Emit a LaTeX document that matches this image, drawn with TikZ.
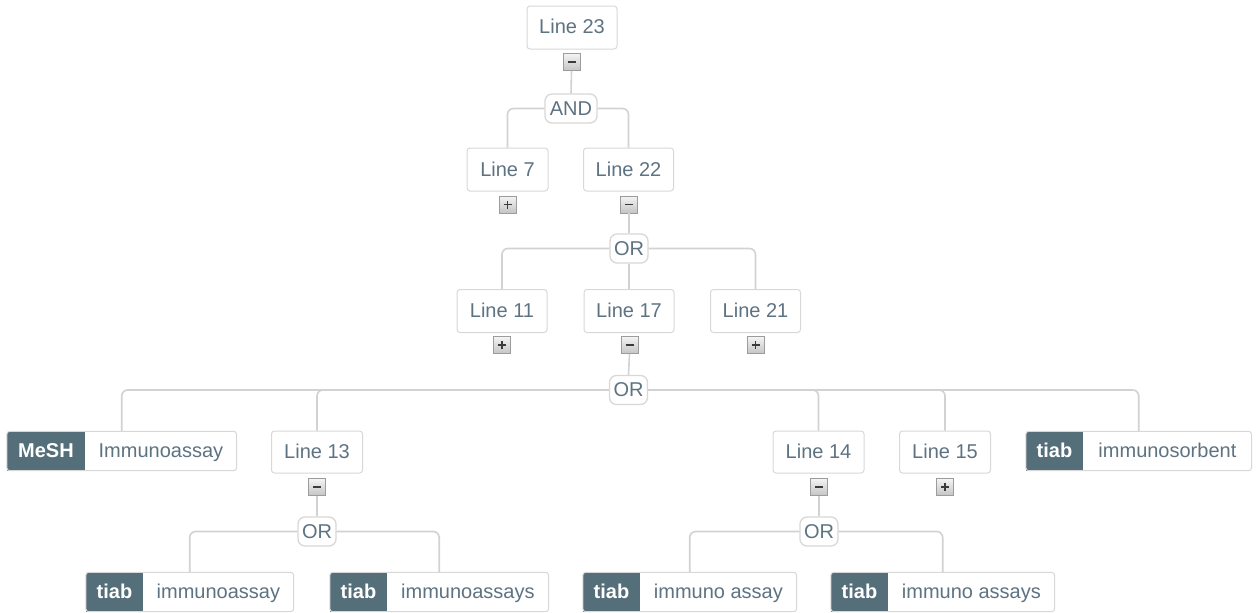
\documentclass[tikz,border=0pt]{standalone}
\usepackage{fontspec}
\setmainfont{Liberation Sans}
\usetikzlibrary{fit}
\definecolor{connc}{HTML}{D2D2D2}
\definecolor{boxc}{HTML}{D8D8D8}
\definecolor{txtc}{HTML}{5E7382}
\definecolor{tagc}{HTML}{546E7A}
\definecolor{btnc}{HTML}{9C9C9C}
\definecolor{btntop}{HTML}{F4F4F4}
\definecolor{btnbot}{HTML}{C4C4C4}
\definecolor{symc}{HTML}{3A3A3A}
\newcommand\myfs{\fontsize{20}{24}\selectfont}
\tikzset{
  txt/.style={text height=14pt, text depth=1pt},
  conn/.style={draw=connc, line width=1.6pt, rounded corners=6pt},
  linebox/.style={txt, draw=boxc, line width=1pt, rounded corners=3pt, fill=white,
    minimum height=43pt, minimum width=90pt, inner sep=0pt, text=txtc, font=\myfs},
  opbox/.style={txt, draw=boxc, line width=1.3pt, rounded corners=7pt, fill=white,
    minimum height=29pt, minimum width=38pt, inner sep=0pt, text=txtc, font=\myfs},
  btn/.style={draw=btnc, line width=0.8pt, top color=btntop, bottom color=btnbot,
    minimum size=17pt, inner sep=0pt},
  btnminus/.style={btn, path picture={
    \draw[symc, line width=1.6pt] ([xshift=-4pt]path picture bounding box.center)
      -- ([xshift=4pt]path picture bounding box.center);}},
  btnplus/.style={btn, path picture={
    \draw[symc, line width=1.6pt] ([xshift=-4pt]path picture bounding box.center)
      -- ([xshift=4pt]path picture bounding box.center);
    \draw[symc, line width=1.6pt] ([yshift=-4pt]path picture bounding box.center)
      -- ([yshift=4pt]path picture bounding box.center);}},
  tag/.style={txt, fill=tagc, text=white, font=\myfs\bfseries, minimum height=39pt, inner sep=0pt},
  term/.style={txt, text=txtc, font=\myfs, minimum height=39pt, inner sep=0pt},
  leafframe/.style={draw=boxc, line width=1pt, rounded corners=3pt, inner sep=0pt}
}
\begin{document}
\begin{tikzpicture}[x=1pt, y=-1pt]
\useasboundingbox[fill=white] (0,0) rectangle (1256,613);

% level 1
\node[linebox] (l23) at (572,27.5) {Line 23};
\node[btnminus] (b23) at (571.5,62) {};
\node[opbox, minimum width=52pt] (and) at (571,108.5) {AND};

% level 2
\node[linebox, minimum width=81pt] (l7) at (507.5,169.5) {Line 7};
\node[btnplus] (b7) at (507.5,204.5) {};
\node[linebox] (l22) at (628.5,169.5) {Line 22};
\node[btnminus] (b22) at (629,204.5) {};
\node[opbox] (or1) at (629,248.5) {OR};

% level 3
\node[linebox] (l11) at (502,311) {Line 11};
\node[btnplus] (b11) at (502,345) {};
\node[linebox] (l17) at (629,311) {Line 17};
\node[btnminus] (b17) at (629.5,345) {};
\node[linebox] (l21) at (755.5,311) {Line 21};
\node[btnplus] (b21) at (755.5,345) {};
\node[opbox] (or2) at (628.5,390) {OR};

% level 4
\node[tag, minimum width=78pt] (meshT) at (46,451) {MeSH};
\node[term, minimum width=151pt, anchor=west] (meshL) at (meshT.east) {Immunoassay};
\node[leafframe, fit=(meshT)(meshL)] (mesh) {};

\node[linebox, minimum width=91pt, minimum height=42pt] (l13) at (317,452) {Line 13};
\node[btnminus] (b13) at (317,487) {};
\node[opbox] (or3) at (317,531.5) {OR};

\node[linebox, minimum width=91pt, minimum height=42pt] (l14) at (818.5,452) {Line 14};
\node[btnminus] (b14) at (819,487) {};
\node[opbox] (or4) at (819,531.5) {OR};

\node[linebox, minimum width=91pt, minimum height=42pt] (l15) at (945,452) {Line 15};
\node[btnplus] (b15) at (945,487) {};

\node[tag, minimum width=57pt] (sorbT) at (1054.5,451) {tiab};
\node[term, minimum width=168pt, anchor=west] (sorbL) at (sorbT.east) {immunosorbent};
\node[leafframe, fit=(sorbT)(sorbL)] (sorb) {};

% level 5
\node[tag, minimum width=57pt] (iaT) at (114.5,592) {tiab};
\node[term, minimum width=150pt, anchor=west] (iaL) at (iaT.east) {immunoassay};
\node[leafframe, fit=(iaT)(iaL)] (ia) {};

\node[tag, minimum width=57pt] (iasT) at (358.5,592) {tiab};
\node[term, minimum width=161pt, anchor=west] (iasL) at (iasT.east) {immunoassays};
\node[leafframe, fit=(iasT)(iasL)] (ias) {};

\node[tag, minimum width=57pt] (isaT) at (611.5,592) {tiab};
\node[term, minimum width=156pt, anchor=west] (isaL) at (isaT.east) {immuno assay};
\node[leafframe, fit=(isaT)(isaL)] (isa) {};

\node[tag, minimum width=57pt] (isasT) at (859.5,592) {tiab};
\node[term, minimum width=166pt, anchor=west] (isasL) at (isasT.east) {immuno assays};
\node[leafframe, fit=(isasT)(isasL)] (isas) {};

% connectors
\draw[conn] (b23.south) -- (and.north);
\draw[conn] (and.west) -| (l7.north);
\draw[conn] (and.east) -| (l22.north);
\draw[conn] (b22.south) -- (or1.north);
\draw[conn] (or1.west) -| (l11.north);
\draw[conn] (or1.east) -| (l21.north);
\draw[conn] (or1.south) -- (l17.north);
\draw[conn] (b17.south) -- (or2.north);
\draw[conn] (or2.west) -| (mesh.north);
\draw[conn] (or2.west) -| (l13.north);
\draw[conn] (or2.east) -| (l14.north);
\draw[conn] (or2.east) -| (l15.north);
\draw[conn] (or2.east) -| (sorb.north);
\draw[conn] (b13.south) -- (or3.north);
\draw[conn] (or3.west) -| (ia.north);
\draw[conn] (or3.east) -| (ias.north);
\draw[conn] (b14.south) -- (or4.north);
\draw[conn] (or4.west) -| (isa.north);
\draw[conn] (or4.east) -| (isas.north);
\end{tikzpicture}
\end{document}
